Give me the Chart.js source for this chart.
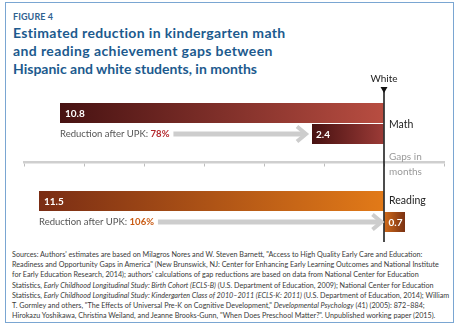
<!DOCTYPE html>
<html>
<head>
<meta charset="utf-8">
<script src="https://cdn.jsdelivr.net/npm/chart.js"></script>
<style>
body{margin:0;width:465px;height:332px;overflow:hidden;background:#fff;font-family:Lato,"Open Sans",sans-serif;}
#frame{position:absolute;left:5px;top:2px;width:447px;height:319px;border:1.5px solid #7aa6d2;}
#fig{position:absolute;left:13px;top:11px;font-size:9px;font-weight:bold;color:#2f6290;letter-spacing:0.1px;}
#title{position:absolute;left:13px;top:24px;font-size:14px;line-height:18px;font-weight:bold;color:#1c5a8e;white-space:nowrap;}
#title .l1{letter-spacing:0.35px;}
#title .l2{letter-spacing:0.4px;}
#src{position:absolute;left:12px;top:250px;font-size:7.2px;line-height:10.2px;color:#3a3a3a;white-space:nowrap;}
#wrap{position:absolute;left:0;top:0;width:465px;height:332px;}
</style>
</head>
<body>
<div id="frame"></div>
<div id="fig">FIGURE 4</div>
<div id="title"><span class="l1">Estimated reduction in kindergarten math</span><br><span class="l2">and reading achievement gaps between</span><br>Hispanic and white students, in months</div>
<div id="src">Sources: Authors' estimates are based on Milagros Nores and W. Steven Barnett, "Access to High Quality Early Care and Education:<br>Readiness and Opportunity Gaps in America" (New Brunswick, NJ: Center for Enhancing Early Learning Outcomes and National Institute<br>for Early Education Research, 2014); authors' calculations of gap reductions are based on data from National Center for Education<br>Statistics, <i>Early Childhood Longitudinal Study: Birth Cohort (ECLS-B)</i> (U.S. Department of Education, 2009); National Center for Education<br>Statistics, <i>Early Childhood Longitudinal Study: Kindergarten Class of 2010–2011 (ECLS-K: 2011)</i> (U.S. Department of Education, 2014); William<br>T. Gormley and others, "The Effects of Universal Pre-K on Cognitive Development," <i>Developmental Psychology</i> (41) (2005): 872–884;<br>Hirokazu Yoshikawa, Christina Weiland, and Jeanne Brooks-Gunn, "When Does Preschool Matter?". Unpublished working paper (2015).</div>
<div id="wrap"><canvas id="myChart"></canvas></div>
<script>
// 데이터
const categories = ['Math', 'Reading'];
const gapBefore = [-10.8, -11.5];     // 격차 (개월), 왼쪽 = 히스패닉이 뒤처짐
const gapAfter = [-2.4, 0.7];         // UPK 이후
const reduction = ['78%', '106%'];
const axisMin = -12, axisMax = 2, tickStep = 2;

// 색 (왼쪽 -> 오른쪽)
const beforeColors = [['#471212', '#b84d41'], ['#7a2d14', '#e27a18']];
const afterColors = [['#471111', '#9c3b37'], ['#d16b1a', '#7a3112']];
const pctColors = ['#b3262b', '#c95a12'];

const ctx = document.getElementById('myChart');

function grad(pairs){
	return (c) => {
		const chart = c.chart;
		if (!chart.chartArea || c.type !== 'data') return pairs[0][0];
		const x = chart.scales.x;
		const v = c.raw;
		const x0 = x.getPixelForValue(Math.min(0, v));
		const x1 = x.getPixelForValue(Math.max(0, v));
		const g = chart.ctx.createLinearGradient(x0, 0, x1, 0);
		g.addColorStop(0, pairs[c.dataIndex][0]);
		g.addColorStop(1, pairs[c.dataIndex][1]);
		return g;
	};
}

const labelsPlugin = {
	id: 'labels',
	afterDatasetsDraw(chart){
		const c = chart.ctx;
		const x = chart.scales.x;
		const x0 = x.getPixelForValue(0);
		const m0 = chart.getDatasetMeta(0).data;
		const m1 = chart.getDatasetMeta(1).data;
		c.save();
		// White 기준선
		const top = m0[0].y - m0[0].height / 2 - 14;
		const bot = m1[1].y + m1[1].height / 2 + 10;
		c.strokeStyle = '#111';
		c.lineWidth = 1.5;
		c.beginPath(); c.moveTo(x0, top); c.lineTo(x0, bot); c.stroke();
		c.fillStyle = '#111';
		c.beginPath(); c.moveTo(x0 - 3.5, top - 2); c.lineTo(x0 + 3.5, top - 2); c.lineTo(x0, top + 4); c.closePath(); c.fill();
		c.font = '10px Lato';
		c.textAlign = 'center';
		c.textBaseline = 'middle';
		c.fillStyle = '#222';
		c.fillText('White', x0, top - 10);

		categories.forEach((cat, i) => {
			const b = m0[i], a = m1[i];
			const bLeft = Math.min(b.x, b.base);
			const aLeft = Math.min(a.x, a.base);
			// 막대 값
			c.font = 'bold 10px Lato';
			c.textAlign = 'left';
			c.fillStyle = '#fff';
			c.fillText(Math.abs(gapBefore[i]).toFixed(1), bLeft + 5, b.y + 0.5);
			c.fillText(Math.abs(gapAfter[i]).toFixed(1), aLeft + 4, a.y + 0.5);
			// 과목 이름
			c.font = '10.5px Lato';
			c.fillStyle = '#222';
			const ly = i == 0 ? (b.y + a.y) / 2 + 1.5 : b.y;
			c.fillText(cat, x0 + 5, ly);
			// Reduction after UPK
			c.font = '9.5px Lato';
			c.fillStyle = '#555';
			const t = 'Reduction after UPK: ';
			c.fillText(t, bLeft, a.y);
			let tx = bLeft + c.measureText(t).width;
			c.font = 'bold 9.5px Lato';
			c.fillStyle = pctColors[i];
			c.fillText(reduction[i], tx, a.y);
			tx += c.measureText(reduction[i]).width + 4;
			// 화살표
			const tip = aLeft - (i == 0 ? 5 : 2);
			c.strokeStyle = '#cdcdcd';
			c.lineWidth = 5;
			c.beginPath(); c.moveTo(tx, a.y); c.lineTo(tip - 3, a.y); c.stroke();
			c.lineWidth = 4;
			c.beginPath(); c.moveTo(tip - 10, a.y - 7.5); c.lineTo(tip - 1, a.y); c.lineTo(tip - 10, a.y + 7.5); c.stroke();
		});
		// Gaps in months
		const ay = chart.scales.y.getPixelForValue(0.46);
		c.font = '10px Lato';
		c.fillStyle = '#9a9a9a';
		c.textAlign = 'left';
		c.fillText('Gaps in', x0 + 5, ay - 7);
		c.fillText('months', x0 + 5, ay + 8);
		c.restore();
	}
};

new Chart(ctx, {
	type: 'bar',
	data: {
		labels: categories,
		datasets: [{
			label: 'before',
			data: gapBefore,
			backgroundColor: grad(beforeColors),
			categoryPercentage: 0.477,
			barPercentage: 0.952
		}, {
			label: 'after UPK',
			data: gapAfter,
			backgroundColor: grad(afterColors),
			categoryPercentage: 0.477,
			barPercentage: 0.952
		}]
	},
	plugins: [labelsPlugin],
	options: {
		indexAxis: 'y',
		responsive: true,
		maintainAspectRatio: false,
		animation: false,
		layout: { padding: { left: 24, right: 21, top: 79.5, bottom: 76.5 } },
		plugins: { legend: { display: false }, tooltip: { enabled: false } },
		scales: {
			x: {
				type: 'linear',
				min: axisMin,
				max: axisMax,
				position: { y: 0.44 },
				ticks: { stepSize: tickStep, display: false },
				grid: { drawOnChartArea: false, drawTicks: true, tickLength: 3, color: '#bdbdbd', lineWidth: 1 },
				border: { color: '#cfcfcf', width: 2.5 }
			},
			y: { display: false }
		}
	}
});
</script>
</body>
</html>
